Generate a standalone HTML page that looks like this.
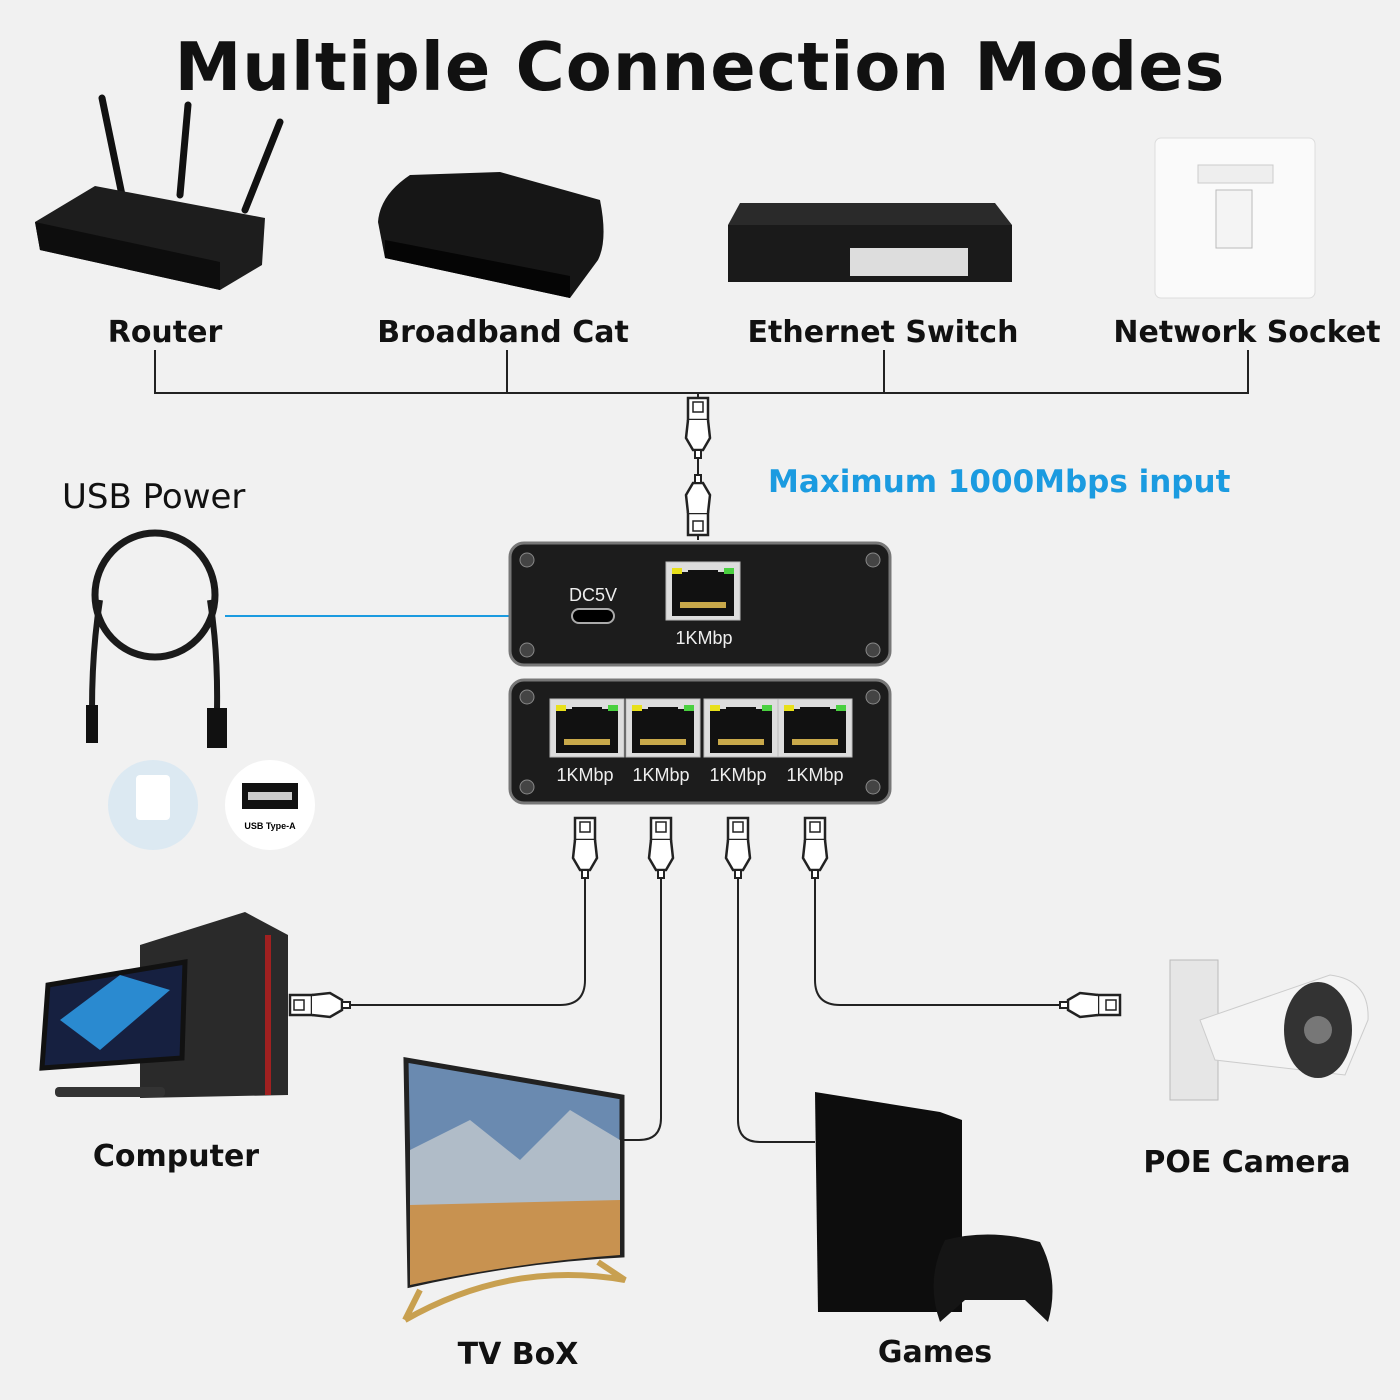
<!DOCTYPE html>
<html><head><meta charset="utf-8"><style>
body{margin:0;background:#f1f1f1;}
#c{position:relative;width:1400px;height:1400px;overflow:hidden;font-family:"DejaVu Sans","Liberation Sans",sans-serif;background:#f1f1f1;}
.t{position:absolute;font-weight:bold;color:#111;white-space:nowrap;}
</style></head><body><div id="c">
<div class="t" style="left:0;width:1400px;text-align:center;top:28px;font-size:67px;letter-spacing:1px;">Multiple Connection Modes</div>
<div class="t" style="left:65px;width:200px;text-align:center;top:315px;font-size:30px;">Router</div>
<div class="t" style="left:353px;width:300px;text-align:center;top:315px;font-size:30px;">Broadband Cat</div>
<div class="t" style="left:733px;width:300px;text-align:center;top:315px;font-size:30px;">Ethernet Switch</div>
<div class="t" style="left:1097px;width:300px;text-align:center;top:315px;font-size:30px;">Network Socket</div>
<div class="t" style="left:768px;top:464px;font-size:31px;color:#1b9be0;">Maximum 1000Mbps input</div>
<div class="t" style="left:62px;top:477px;font-size:34px;font-weight:normal;">USB Power</div>
<div class="t" style="left:76px;width:200px;text-align:center;top:1139px;font-size:30px;">Computer</div>
<div class="t" style="left:418px;width:200px;text-align:center;top:1337px;font-size:30px;">TV BoX</div>
<div class="t" style="left:835px;width:200px;text-align:center;top:1335px;font-size:30px;">Games</div>
<div class="t" style="left:1127px;width:240px;text-align:center;top:1145px;font-size:30px;">POE Camera</div>
<svg width="1400" height="1400" style="position:absolute;left:0;top:0" xmlns="http://www.w3.org/2000/svg">
<defs>
<g id="rj"><rect x="-10" y="0" width="20" height="22" fill="#fff" stroke="#222" stroke-width="2.5"/><rect x="-5" y="4" width="10" height="10" fill="none" stroke="#222" stroke-width="1.5"/><path d="M-10 22 L-12 40 L-5 52 L5 52 L12 40 L10 22" fill="#fff" stroke="#222" stroke-width="2.5"/><rect x="-3" y="52" width="6" height="8" fill="#fff" stroke="#222" stroke-width="2"/></g>
<g id="port"><rect x="0" y="0" width="74" height="58" fill="#ddd" stroke="#bbb"/><rect x="6" y="10" width="62" height="44" fill="#111"/><rect x="6" y="6" width="10" height="6" fill="#e8e01a"/><rect x="58" y="6" width="10" height="6" fill="#4ad040"/><rect x="22" y="8" width="30" height="10" fill="#111"/><rect x="14" y="40" width="46" height="6" fill="#c8a84a"/></g>
</defs>
<g stroke="#222" stroke-width="2" fill="none">
<path d="M155 350 V393 H1248 V350 M507 350 V393 M884 350 V393 M698 393 V540"/>
<path d="M585 870 V980 Q585 1005 560 1005 H340"/>
<path d="M661 870 V1118 Q661 1140 639 1140 H622"/>
<path d="M738 870 V1120 Q738 1142 760 1142 H815"/>
<path d="M815 870 V980 Q815 1005 840 1005 H1070"/>
</g>
<line x1="225" y1="616" x2="572" y2="616" stroke="#1b9be0" stroke-width="2"/>
<use href="#rj" transform="translate(698,398)"/>
<use href="#rj" transform="translate(698,535) rotate(180)"/>
<use href="#rj" transform="translate(585,818)"/><use href="#rj" transform="translate(661,818)"/><use href="#rj" transform="translate(738,818)"/><use href="#rj" transform="translate(815,818)"/>
<use href="#rj" transform="translate(290,1005) rotate(-90)"/>
<use href="#rj" transform="translate(1120,1005) rotate(90)"/>
<rect x="510" y="543" width="380" height="122" rx="14" fill="#1c1c1c" stroke="#777" stroke-width="3"/>
<rect x="510" y="680" width="380" height="123" rx="14" fill="#1c1c1c" stroke="#777" stroke-width="3"/>
<g fill="#444" stroke="#888"><circle cx="527" cy="560" r="7"/><circle cx="873" cy="560" r="7"/><circle cx="527" cy="650" r="7"/><circle cx="873" cy="650" r="7"/><circle cx="527" cy="697" r="7"/><circle cx="873" cy="697" r="7"/><circle cx="527" cy="787" r="7"/><circle cx="873" cy="787" r="7"/></g>
<rect x="572" y="609" width="42" height="14" rx="7" fill="#000" stroke="#aaa" stroke-width="2"/>
<text x="593" y="601" fill="#eee" font-size="18" text-anchor="middle" font-family="Liberation Sans">DC5V</text>
<use href="#port" transform="translate(666,562)"/>
<text x="704" y="644" fill="#eee" font-size="18" text-anchor="middle" font-family="Liberation Sans">1KMbp</text>
<use href="#port" transform="translate(550,699)"/><use href="#port" transform="translate(626,699)"/><use href="#port" transform="translate(704,699)"/><use href="#port" transform="translate(778,699)"/>
<g fill="#eee" font-size="18" text-anchor="middle" font-family="Liberation Sans"><text x="585" y="781">1KMbp</text><text x="661" y="781">1KMbp</text><text x="738" y="781">1KMbp</text><text x="815" y="781">1KMbp</text></g>
<g stroke="#111" stroke-width="7" stroke-linecap="round"><line x1="102" y1="98" x2="122" y2="195"/><line x1="188" y1="105" x2="180" y2="195"/><line x1="280" y1="122" x2="245" y2="210"/></g>
<path d="M35 222 L95 186 L265 218 L262 265 L220 290 L40 250 Z" fill="#1d1d1d"/>
<path d="M35 222 L220 262 L220 290 L40 250 Z" fill="#0d0d0d"/>
<path d="M378 222 Q380 195 410 175 L500 172 L600 200 Q608 240 598 260 L570 298 L385 258 Z" fill="#161616"/>
<path d="M385 240 L570 276 L570 298 L385 258 Z" fill="#050505"/>
<path d="M740 203 L995 203 L1012 225 L728 225 Z" fill="#2a2a2a"/>
<rect x="728" y="225" width="284" height="57" fill="#1a1a1a"/>
<rect x="850" y="248" width="118" height="28" fill="#ddd"/>
<rect x="1155" y="138" width="160" height="160" rx="6" fill="#fafafa" stroke="#ddd"/>
<rect x="1198" y="165" width="75" height="18" fill="#eee" stroke="#ccc"/>
<rect x="1216" y="190" width="36" height="58" fill="#f4f4f4" stroke="#bbb"/>
<ellipse cx="155" cy="595" rx="60" ry="62" fill="none" stroke="#1a1a1a" stroke-width="7"/>
<path d="M100 600 Q92 650 92 710 M210 600 Q218 650 217 710" fill="none" stroke="#1a1a1a" stroke-width="6"/>
<rect x="86" y="705" width="12" height="38" fill="#111"/><rect x="207" y="708" width="20" height="40" fill="#111"/>
<circle cx="153" cy="805" r="45" fill="#dce9f2"/><rect x="136" y="775" width="34" height="45" rx="4" fill="#fff"/>
<circle cx="270" cy="805" r="45" fill="#fff"/><rect x="242" y="783" width="56" height="26" fill="#111"/><rect x="248" y="792" width="44" height="8" fill="#ccc"/>
<text x="270" y="829" font-size="9" text-anchor="middle" font-weight="bold" font-family="Liberation Sans">USB Type-A</text>
<path d="M140 945 L245 912 L288 935 L288 1095 L140 1098 Z" fill="#2a2a2a"/>
<rect x="265" y="935" width="6" height="160" fill="#a02020"/>
<path d="M48 985 L185 962 L182 1058 L42 1068 Z" fill="#162040" stroke="#111" stroke-width="5"/>
<path d="M60 1020 L120 975 L170 990 L100 1050 Z" fill="#2a8ad0"/>
<rect x="55" y="1087" width="110" height="10" rx="4" fill="#333"/>
<path d="M406 1060 Q520 1080 622 1097 L622 1255 Q520 1260 410 1285 Z" fill="#6a8ab0" stroke="#222" stroke-width="5"/>
<path d="M410 1200 Q520 1190 620 1200 L620 1255 Q520 1262 410 1285 Z" fill="#c89250"/>
<path d="M410 1150 L470 1120 L520 1160 L570 1110 L620 1140 L620 1200 L410 1205 Z" fill="#b0bcc8"/>
<path d="M405 1320 Q510 1260 625 1280 L598 1262 M420 1290 L405 1320" fill="none" stroke="#c8a050" stroke-width="6"/>
<path d="M815 1092 L940 1112 L962 1120 L962 1312 L818 1312 Z" fill="#0d0d0d"/>
<path d="M945 1240 Q990 1228 1040 1242 Q1060 1280 1048 1322 L1025 1300 L965 1300 L940 1322 Q925 1280 945 1240 Z" fill="#151515"/>
<rect x="1170" y="960" width="48" height="140" fill="#e6e6e6" stroke="#bbb"/>
<path d="M1200 1020 L1330 975 Q1370 980 1368 1020 L1345 1075 L1215 1060 Z" fill="#f4f4f4" stroke="#ccc"/>
<ellipse cx="1318" cy="1030" rx="34" ry="48" fill="#333"/><circle cx="1318" cy="1030" r="14" fill="#777"/>
</svg>
</div></body></html>
